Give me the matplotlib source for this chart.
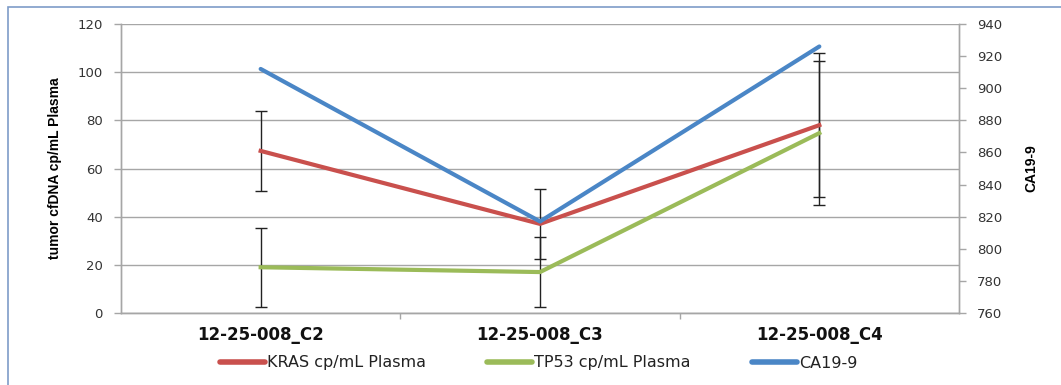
import matplotlib
matplotlib.use("Agg")
import matplotlib.pyplot as plt
from matplotlib.lines import Line2D
from matplotlib.patches import Rectangle
import numpy as np

# data
samples = ["12-25-008_C2", "12-25-008_C3", "12-25-008_C4"]
kras = [67.3, 37.0, 78.0]
kras_err = [16.6, 14.5, 30.0]
tp53 = [19.0, 17.0, 74.7]
tp53_err = [16.4, 14.6, 29.9]
ca199 = [912, 817, 926]

left_ticks = [0, 20, 40, 60, 80, 100, 120]
right_ticks = [760, 780, 800, 820, 840, 860, 880, 900, 920, 940]

red = "#C9504D"
green = "#9BBB59"
blue = "#4A86C6"
grid_c = "#A6A6A6"

fig = plt.figure(figsize=(10.61, 3.85), dpi=100)
ax = fig.add_axes([121 / 1061, 1 - 313 / 385, (959 - 121) / 1061, (313 - 24) / 385])
ax2 = ax.twinx()

x = np.arange(len(samples))

ax.errorbar(x, kras, yerr=kras_err, color=red, lw=3, ecolor="#222222",
            elinewidth=1, capsize=4, capthick=1, zorder=3)
ax.errorbar(x, tp53, yerr=tp53_err, color=green, lw=3, ecolor="#222222",
            elinewidth=1, capsize=4, capthick=1, zorder=3)
ax2.plot(x, ca199, color=blue, lw=3, solid_capstyle="round")

ax.set_xlim(-0.5, len(samples) - 0.5)
ax.set_ylim(0, 120)
ax.set_yticks(left_ticks)
ax2.set_ylim(760, 940)
ax2.set_yticks(right_ticks)

ax.yaxis.grid(True, color=grid_c, lw=1)
ax.set_axisbelow(True)

ax.set_xticks(x)
ax.set_xticklabels(samples, fontsize=12, fontweight="bold", color="#111111")
ax.set_xticks([0.5, 1.5], minor=True)
ax.tick_params(axis="x", which="major", length=0, pad=9)
ax.tick_params(axis="x", which="minor", length=4, color=grid_c, width=1)
ax.tick_params(axis="y", length=5, color=grid_c, width=1, labelsize=9.5, pad=8,
               labelcolor="#333333")
ax2.tick_params(axis="y", length=5, color=grid_c, width=1, labelsize=9.5, pad=8,
                labelcolor="#333333")

for a in (ax, ax2):
    a.spines["top"].set_visible(False)
    for s in ("left", "right", "bottom"):
        a.spines[s].set_color(grid_c)
        a.spines[s].set_linewidth(1)

label_font = dict(family=["Liberation Sans", "DejaVu Sans"], fontsize=10,
                  fontweight="bold")
ax.set_ylabel("tumor cfDNA cp/mL Plasma", labelpad=11, **label_font)
ax2.set_ylabel("CA19-9", labelpad=16, **label_font)

# legend entries, placed one by one along the bottom
names = ["KRAS cp/mL Plasma", "TP53 cp/mL Plasma", "CA19-9"]
colors = [red, green, blue]
starts = [220, 487, 752]
for name, c, xs in zip(names, colors, starts):
    h = Line2D([], [], color=c, lw=4, solid_capstyle="round")
    fig.legend([h], [name], loc="center left", bbox_to_anchor=(xs / 1061, 1 - 363 / 385),
               frameon=False, fontsize=11.5, handlelength=2.8, handletextpad=0.15,
               borderpad=0, borderaxespad=0, labelcolor="#222222")

# outer frame of the chart area
fig.add_artist(Rectangle((8 / 1061, -0.05), 1.1, 1 - 7 / 385 + 0.05,
                         transform=fig.transFigure, fill=False,
                         edgecolor="#7E9CC8", lw=1.2))

fig.savefig("out.png", dpi=100)
